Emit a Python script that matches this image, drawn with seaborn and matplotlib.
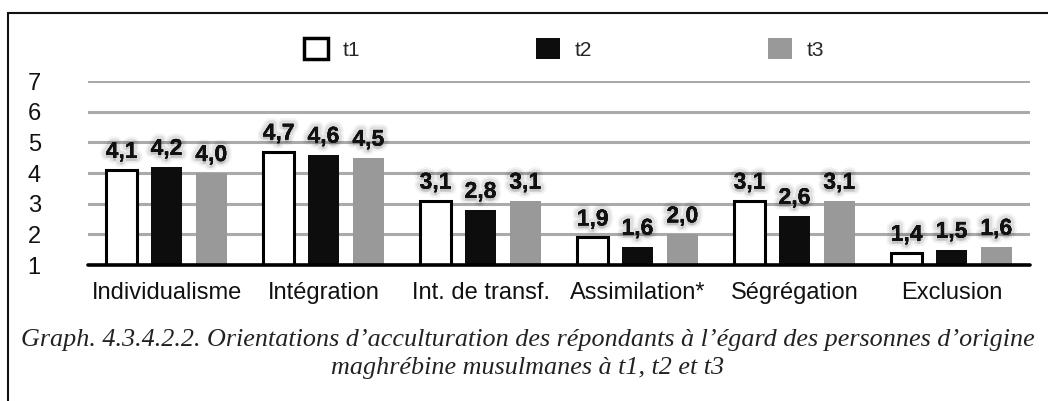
import matplotlib
matplotlib.use("Agg")
import matplotlib.pyplot as plt
import matplotlib.patheffects as pe
from matplotlib.patches import Patch, Rectangle
import pandas as pd
import seaborn as sns

categories = ["Individualisme", "Intégration", "Int. de transf.", "Assimilation*", "Ségrégation", "Exclusion"]
t1 = [4.1, 4.7, 3.1, 1.9, 3.1, 1.4]
t2 = [4.2, 4.6, 2.8, 1.6, 2.6, 1.5]
t3 = [4.0, 4.5, 3.1, 2.0, 3.1, 1.6]
series = ["t1", "t2", "t3"]
yticks = [1, 2, 3, 4, 5, 6, 7]
caption = ("Graph. 4.3.4.2.2. Orientations d\u2019acculturation des répondants à l\u2019égard des personnes d\u2019origine\n"
           "maghrébine musulmanes à t1, t2 et t3")

df = pd.DataFrame({
    "cat": categories * 3,
    "serie": [s for s in series for _ in categories],
    "val": t1 + t2 + t3,
})

sns.set_theme(style="white")
plt.rcParams["font.family"] = ["Liberation Sans", "DejaVu Sans"]

fills = {"t1": "#ffffff", "t2": "#0d0d0d", "t3": "#999999"}

fig = plt.figure(figsize=(10.48, 4.01), dpi=100)
ax = fig.add_axes([88 / 1048, 1 - 265 / 401, (1030 - 88) / 1048, (265 - 81) / 401])

sns.barplot(data=df, x="cat", y="val", hue="serie", hue_order=series,
            palette=fills, width=0.857, gap=0.3, ax=ax, legend=False,
            saturation=1, errorbar=None, zorder=3)

for container, s in zip(ax.containers, series):
    for bar in container:
        bar.set_edgecolor("#000000" if s == "t1" else fills[s])
        bar.set_linewidth(2.2 if s == "t1" else 0)
    labels = [f"{v:.1f}".replace(".", ",") for v in container.datavalues]
    txts = ax.bar_label(container, labels=labels, padding=5, fontsize=16.5,
                        fontweight="bold", color="#111111", zorder=5)
    for t in txts:
        t.set_path_effects([
            pe.withSimplePatchShadow(offset=(0, -2), shadow_rgbFace="#000000", alpha=0.12),
            pe.withStroke(linewidth=8, foreground="#000000", alpha=0.05),
            pe.withStroke(linewidth=5, foreground="#000000", alpha=0.08),
            pe.Normal(),
        ])

ax.set_ylim(1, 7)
ax.set_xlim(-0.5, len(categories) - 0.5)
ax.set_yticks(yticks)
ax.yaxis.grid(True, color="#aaaaaa", linewidth=2.2, zorder=0)
ax.set_axisbelow(True)
ax.axhline(1, color="#000000", linewidth=2.6, zorder=4, clip_on=False)
for sp in ax.spines.values():
    sp.set_visible(False)
ax.tick_params(axis="y", length=0, pad=34, labelsize=17)
ax.tick_params(axis="x", length=0, pad=12, labelsize=17)
for lab in ax.get_yticklabels() + ax.get_xticklabels():
    lab.set_color("#111111")
ax.set_xlabel("")
ax.set_ylabel("")

handles = [Patch(facecolor=fills[s], edgecolor="#000000" if s == "t1" else fills[s],
                 linewidth=2.5 if s == "t1" else 0) for s in series]
fig.legend(handles, series, loc="center left", bbox_to_anchor=(304 / 1048, 1 - 49 / 401),
           ncol=3, frameon=False, fontsize=15, handlelength=1.15, handleheight=1.15,
           handletextpad=0.7, columnspacing=8.45, borderpad=0, borderaxespad=0)

fig.text(528 / 1048, 1 - 354 / 401, caption, ha="center", va="center",
         fontsize=18.8, style="italic", family=["Liberation Serif", "DejaVu Serif"],
         color="#222222", linespacing=1.3)

fig.patches.append(Rectangle((8 / 1048, -0.2), 1.2, 1.2 - 13 / 401,
                             transform=fig.transFigure, fill=False,
                             edgecolor="#111111", linewidth=1.5))

fig.savefig("out.png", dpi=100)
